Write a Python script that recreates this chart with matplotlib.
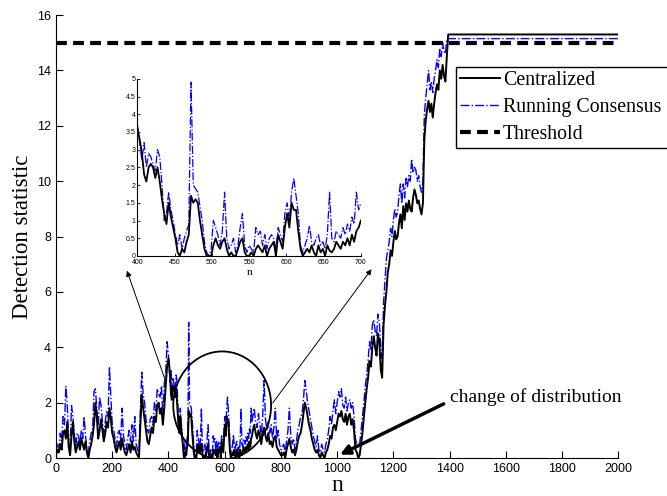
import numpy as np
import matplotlib
matplotlib.use('Agg')
from matplotlib import pyplot as plt
from matplotlib.patches import Ellipse

# Detection statistic.
# Segment A: n = 0..395, step 5
c_a = [0.1, 0.3, 0.2, 0.5, 0.3, 0.9, 1.0, 0.7, 1.3, 0.4,
       0.1, 0.8, 1.3, 0.6, 0.2, 0.4, 0.6, 0.3, 0.7, 0.5,
       0.3, 0.6, 0.2, 0.0, 0.3, 0.5, 0.8, 1.2, 2.0, 1.5,
       0.7, 1.0, 1.4, 1.0, 0.6, 0.9, 1.3, 1.1, 1.8, 1.4,
       0.9, 0.7, 0.4, 0.2, 0.4, 0.6, 0.3, 0.7, 0.4, 0.2,
       0.1, 0.3, 0.5, 0.2, 0.6, 0.3, 0.4, 0.2, 0.1, 0.0,
       1.2, 2.3, 1.8, 1.4, 1.0, 0.6, 0.5, 0.8, 1.1, 0.9,
       1.5, 1.3, 1.9, 2.0, 1.6, 1.8, 1.2, 1.8, 2.6, 3.3]
r_a = [0.3, 0.5, 0.2, 0.9, 0.6, 1.5, 1.2, 2.6, 1.9, 0.6,
       0.3, 1.9, 1.5, 0.9, 0.4, 0.9, 0.8, 0.5, 1.0, 0.7,
       1.5, 0.8, 0.3, 0.2, 0.6, 0.9, 1.0, 2.4, 2.5, 1.8,
       1.2, 2.2, 1.9, 1.3, 0.9, 1.3, 1.7, 1.5, 3.3, 2.2,
       1.2, 1.0, 0.7, 0.4, 0.9, 1.0, 0.6, 1.8, 0.8, 0.5,
       0.3, 0.7, 1.0, 0.6, 1.2, 0.6, 1.5, 0.5, 0.3, 0.2,
       1.8, 3.1, 2.3, 2.0, 1.4, 1.0, 0.9, 1.4, 1.5, 1.2,
       2.0, 1.7, 2.5, 2.3, 2.2, 2.6, 1.5, 2.7, 3.0, 4.2]

# Segment B: n = 400..697, step 3 (zoomed region)
c_b = [3.6, 3.3, 2.9, 2.3, 2.1, 2.5, 2.6, 2.5, 2.2, 2.5,
       2.1, 1.6, 1.2, 0.9, 1.5, 1.1, 0.8, 0.5, 0.1, 0.0,
       0.2, 0.1, 0.4, 0.6, 1.7, 1.5, 1.6, 1.5, 1.0, 0.6,
       0.2, 0.0, 0.0, 0.0, 0.3, 0.5, 0.3, 0.2, 0.4, 0.5,
       0.2, 0.0, 0.1, 0.0, 0.0, 0.2, 0.4, 0.5, 0.1, 0.0,
       0.0, 0.1, 0.0, 0.2, 0.3, 0.2, 0.1, 0.3, 0.0, 0.2,
       0.3, 0.4, 0.0, 0.6, 0.4, 0.2, 0.8, 1.2, 0.8, 1.5,
       1.3, 1.3, 0.7, 0.2, 0.0, 0.1, 0.2, 0.1, 0.3, 0.1,
       0.0, 0.3, 0.1, 0.2, 0.0, 0.3, 0.15, 0.1, 0.2, 0.4,
       0.3, 0.2, 0.4, 0.3, 0.5, 0.3, 0.6, 0.4, 0.7, 0.8]
r_b = [3.7, 3.2, 2.7, 3.2, 2.5, 2.9, 2.8, 2.6, 2.4, 3.0,
       2.8, 2.0, 1.0, 1.2, 1.8, 1.3, 1.0, 0.6, 0.3, 0.6,
       0.2, 0.5, 0.7, 0.9, 4.9, 2.0, 1.9, 1.8, 1.4, 1.0,
       0.4, 0.1, 0.0, 0.2, 1.0, 0.8, 0.6, 0.3, 0.7, 1.8,
       0.5, 0.2, 0.3, 0.5, 0.1, 0.3, 0.8, 1.2, 0.3, 0.1,
       0.3, 0.2, 0.1, 0.8, 0.6, 0.7, 0.3, 0.6, 0.2, 0.5,
       0.6, 0.5, 0.2, 0.8, 0.6, 0.4, 1.2, 1.5, 1.0, 1.8,
       2.2, 1.7, 1.2, 0.3, 0.1, 0.3, 0.5, 0.85, 0.4, 0.3,
       0.5, 0.6, 0.3, 0.4, 0.2, 0.6, 1.8, 0.5, 0.4, 0.7,
       0.6, 0.5, 0.8, 0.6, 0.9, 0.7, 1.1, 0.9, 1.8, 1.3]

# Segment C: n = 700..1395, step 5
c_c = [1.0, 1.2, 0.9, 0.7, 1.0, 0.8, 0.5, 0.9, 1.1, 0.8,
       0.6, 0.9, 0.5, 0.6, 0.4, 0.7, 0.8, 0.4, 0.3, 0.2,
       0.1, 0.1, 0.2, 0.0, 0.3, 0.5, 0.7, 0.4, 0.2, 0.3,
       0.1, 0.3, 0.6, 0.8, 0.9, 1.2, 1.6, 2.0, 1.8, 1.5,
       1.2, 1.0, 0.7, 0.5, 0.3, 0.2, 0.3, 0.1, 0.0, 0.2,
       0.1, 0.0, 0.2, 0.3, 0.5, 0.8, 0.7, 1.1, 1.2, 1.0,
       1.3, 1.6, 1.5, 1.7, 1.4, 1.3, 1.6, 1.2, 1.5, 1.6,
       1.2, 1.4, 1.0, 0.3, 0.2, 0.0, 0.1, 0.5, 0.9, 1.5,
       2.0, 2.5, 2.9, 3.5, 3.3, 4.0, 4.4, 4.0, 3.7, 4.5,
       4.2, 3.2, 2.9, 4.8, 5.5, 6.0, 6.7, 7.0, 7.5, 7.3,
       7.8, 8.2, 7.9, 8.0, 8.5, 8.8, 8.3, 9.1, 8.6, 9.2,
       8.9, 9.3, 9.0, 8.9, 9.4, 9.7, 9.5, 9.2, 9.3, 9.0,
       8.8, 9.2, 11.5, 12.2, 12.6, 12.9, 12.5, 12.8, 12.3, 12.8,
       13.2, 13.5, 13.3, 14.0, 13.7, 14.2, 13.8, 13.6, 14.5, 15.3]
r_c = [1.5, 1.8, 1.3, 1.1, 1.6, 1.2, 0.8, 1.5, 2.8, 1.4,
       1.0, 1.3, 0.9, 1.2, 0.7, 1.1, 1.8, 0.7, 1.0, 0.5,
       0.3, 0.4, 0.5, 0.2, 0.6, 1.0, 1.8, 0.8, 0.5, 0.7,
       0.3, 0.6, 1.0, 1.2, 1.5, 1.6, 2.1, 2.8, 2.4, 2.0,
       1.7, 1.4, 1.1, 0.8, 0.6, 0.4, 0.8, 0.3, 0.2, 0.5,
       0.3, 0.2, 0.5, 0.7, 1.0, 1.5, 1.2, 1.7, 2.1, 1.6,
       2.0, 2.4, 2.2, 2.5, 1.9, 1.8, 2.2, 1.7, 2.0, 2.1,
       1.8, 2.0, 1.5, 0.7, 0.5, 0.4, 0.5, 1.0, 1.5, 2.0,
       2.6, 3.0, 3.5, 4.2, 3.9, 4.8, 5.0, 4.6, 4.4, 5.2,
       4.9, 4.0, 3.6, 5.6, 6.4, 7.2, 7.5, 7.8, 8.3, 8.0,
       8.6, 9.0, 8.7, 8.9, 9.5, 9.9, 9.2, 9.9, 9.4, 10.1,
       9.8, 10.2, 10.0, 10.8, 10.3, 10.5, 10.4, 10.0, 10.2, 9.8,
       9.6, 10.0, 12.4, 13.0, 13.5, 14.0, 13.3, 13.6, 13.2, 13.7,
       14.0, 14.4, 14.1, 14.8, 14.5, 15.0, 14.7, 14.6, 15.15, 15.15]

# after the alarm the statistics stay put
n_tail = [2000]
c_tail = [15.3]
r_tail = [15.15]
threshold = 15

n = np.concatenate([np.arange(0, 400, 5), np.arange(400, 700, 3),
                    np.arange(700, 1400, 5), n_tail])
central = np.array(c_a + c_b + c_c + c_tail)
consensus = np.array(r_a + r_b + r_c + r_tail)

serif = ['Liberation Serif', 'DejaVu Serif']
plt.rcParams['font.family'] = ['Liberation Sans', 'DejaVu Sans']

fig = plt.figure(figsize=(6.67, 4.96), dpi=100)
ax = fig.add_axes([0.084, 0.0766, 0.843, 0.893])

ax.plot(n, consensus, '-.', color='blue', lw=1.0, label='Running Consensus', zorder=2)
ax.plot(n, central, '-', color='black', lw=1.4, label='Centralized', zorder=3)
ax.plot([0, 2000], [threshold, threshold], color='black', lw=3,
        dashes=(2.6, 1.5), label='Threshold', zorder=4)

ax.set_xlim(0, 2000)
ax.set_ylim(0, 16)
ax.set_xticks(range(0, 2001, 200))
ax.set_yticks(range(0, 17, 2))
ax.tick_params(direction='in', length=5, labelsize=9, width=0.8)
for s in ['top', 'right']:
    ax.spines[s].set_visible(False)
ax.set_xlabel('n', fontsize=17, family=serif, labelpad=0)
ax.set_ylabel('Detection statistic', fontsize=16.5, family=serif, labelpad=3)

h, l = ax.get_legend_handles_labels()
leg = ax.legend([h[1], h[0], h[2]], [l[1], l[0], l[2]],
                loc='upper left', bbox_to_anchor=(0.684, 0.700, 0.33, 0.165),
                mode='expand', bbox_transform=fig.transFigure,
                prop={'family': serif, 'size': 14.3},
                fancybox=False, edgecolor='black', framealpha=1,
                handlelength=2.0, borderpad=0.2, labelspacing=0.4,
                handletextpad=0.15, borderaxespad=0)
leg.get_frame().set_linewidth(1.0)

# zoom marker + arrows to the inset
ax.add_patch(Ellipse((591, 1.9), 348, 3.9, fill=False, color='black', lw=1.3, zorder=5))
ax.annotate('', xy=(249, 6.86), xytext=(391, 2.74),
            arrowprops=dict(arrowstyle='-|>', color='black', lw=0.7, mutation_scale=8))
ax.annotate('', xy=(1128, 6.9), xytext=(765, 1.91),
            arrowprops=dict(arrowstyle='-|>', color='black', lw=0.7, mutation_scale=8))

ax.annotate('change of distribution', xy=(1010, 0.12), xytext=(1402, 2.2),
            fontsize=14, family=serif, va='center',
            arrowprops=dict(arrowstyle='-|>', color='black', lw=2.5, mutation_scale=14,
                            relpos=(0, 0.3), shrinkA=3, shrinkB=0))

# inset
axin = fig.add_axes([0.206, 0.484, 0.335, 0.357])
sel = (n >= 400) & (n <= 700)
axin.plot(n[sel], consensus[sel], '-.', color='blue', lw=0.9)
axin.plot(n[sel], central[sel], '-', color='black', lw=1.3)
axin.set_xlim(400, 700)
axin.set_ylim(0, 5)
axin.set_xticks(range(400, 701, 50))
axin.set_yticks(np.arange(0, 5.01, 0.5))
axin.set_yticklabels(['0', '0.5', '1', '1.5', '2', '2.5', '3', '3.5', '4', '4.5', '5'])
axin.tick_params(direction='in', length=2.5, labelsize=5, width=0.6, pad=1.5)
axin.tick_params(axis='x', pad=2.5)
for s in ['top', 'right']:
    axin.spines[s].set_visible(False)
axin.set_xlabel('n', fontsize=8, family=serif, labelpad=1)

fig.savefig('out.png', dpi=100)
